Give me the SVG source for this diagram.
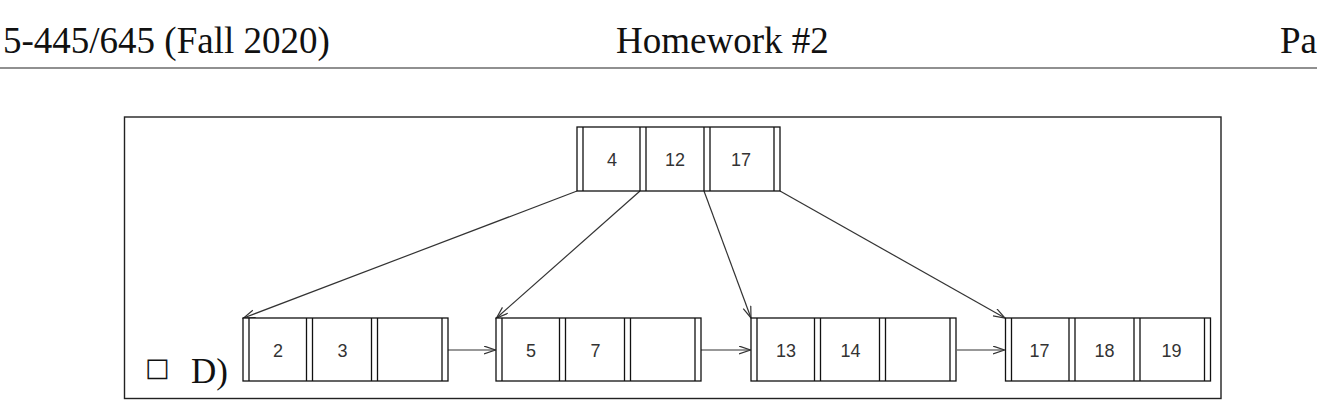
<svg xmlns="http://www.w3.org/2000/svg" width="1317" height="411" viewBox="0 0 1317 411">
<defs>
<style>
.hdr{font-family:"Liberation Serif","Times New Roman",serif;font-size:37px;fill:#111}
.box{fill:#fff;stroke:#111;stroke-width:1.3}
.sep{stroke:#111;stroke-width:1.3}
.key{font-family:"Liberation Sans",Arial,sans-serif;font-size:18px;fill:#333;text-anchor:middle}
.conn{stroke:#333;stroke-width:1.2;fill:none;marker-end:url(#arr)}
</style>
<marker id="arr" markerUnits="userSpaceOnUse" markerWidth="14" markerHeight="10" refX="12" refY="4.5" orient="auto">
<path d="M0.5,0.5 L12,4.5 L0.5,8.5" fill="none" stroke="#333" stroke-width="1.2"/>
</marker>
</defs>
<rect width="1317" height="411" fill="#fff"/>
<g id="header">
<text class="hdr" x="3" y="53">5-445/645 (Fall 2020)</text>
<text class="hdr" x="616" y="53">Homework #2</text>
<text class="hdr" x="1280" y="53">Pa</text>
<line x1="0" y1="68" x2="1317" y2="68" stroke="#222" stroke-width="1.2"/>
</g>
<rect id="frame" x="124.5" y="117" width="1096.5" height="281.5" fill="none" stroke="#222" stroke-width="1.4"/>
<g id="connectors">
<line class="conn" x1="577" y1="191" x2="243.5" y2="318"/>
<line class="conn" x1="640" y1="191" x2="496.5" y2="318"/>
<line class="conn" x1="704" y1="191" x2="751" y2="318"/>
<line class="conn" x1="780" y1="191" x2="1005" y2="318"/>
<line class="conn" x1="448" y1="350" x2="495.5" y2="350"/>
<line class="conn" x1="701" y1="350" x2="750.5" y2="350"/>
<line class="conn" x1="957" y1="350" x2="1004.5" y2="350"/>
</g>
<g id="root">
<rect class="box" x="577" y="127" width="203" height="64"/>
<path class="sep" d="M583,127V191M640,127V191M646,127V191M704,127V191M710,127V191M774,127V191"/>
<text class="key" x="612" y="165.5">4</text>
<text class="key" x="675" y="165.5">12</text>
<text class="key" x="741" y="165.5">17</text>
</g>
<g id="leaf1" transform="translate(243,318)">
<rect class="box" x="0" y="0" width="205" height="63"/>
<path class="sep" d="M6,0V63M63.5,0V63M69.5,0V63M128.5,0V63M134.5,0V63M199,0V63"/>
<text class="key" x="35" y="38.5">2</text>
<text class="key" x="99.5" y="38.5">3</text>
</g>
<g id="leaf2" transform="translate(496,318)">
<rect class="box" x="0" y="0" width="205" height="63"/>
<path class="sep" d="M6,0V63M63.5,0V63M69.5,0V63M128.5,0V63M134.5,0V63M199,0V63"/>
<text class="key" x="35" y="38.5">5</text>
<text class="key" x="99.5" y="38.5">7</text>
</g>
<g id="leaf3" transform="translate(751,318)">
<rect class="box" x="0" y="0" width="205" height="63"/>
<path class="sep" d="M6,0V63M63.5,0V63M69.5,0V63M128.5,0V63M134.5,0V63M199,0V63"/>
<text class="key" x="35" y="38.5">13</text>
<text class="key" x="99.5" y="38.5">14</text>
</g>
<g id="leaf4" transform="translate(1005.5,318)">
<rect class="box" x="0" y="0" width="205" height="63"/>
<path class="sep" d="M6,0V63M63.5,0V63M69.5,0V63M128.5,0V63M134.5,0V63M199,0V63"/>
<text class="key" x="34" y="38.5">17</text>
<text class="key" x="99" y="38.5">18</text>
<text class="key" x="166" y="38.5">19</text>
</g>
<g id="option">
<text x="145" y="376" font-family="'DejaVu Sans',sans-serif" font-size="26" fill="#111">□</text>
<text class="hdr" x="191" y="382.5" style="font-size:35px">D)</text>
</g>
</svg>
